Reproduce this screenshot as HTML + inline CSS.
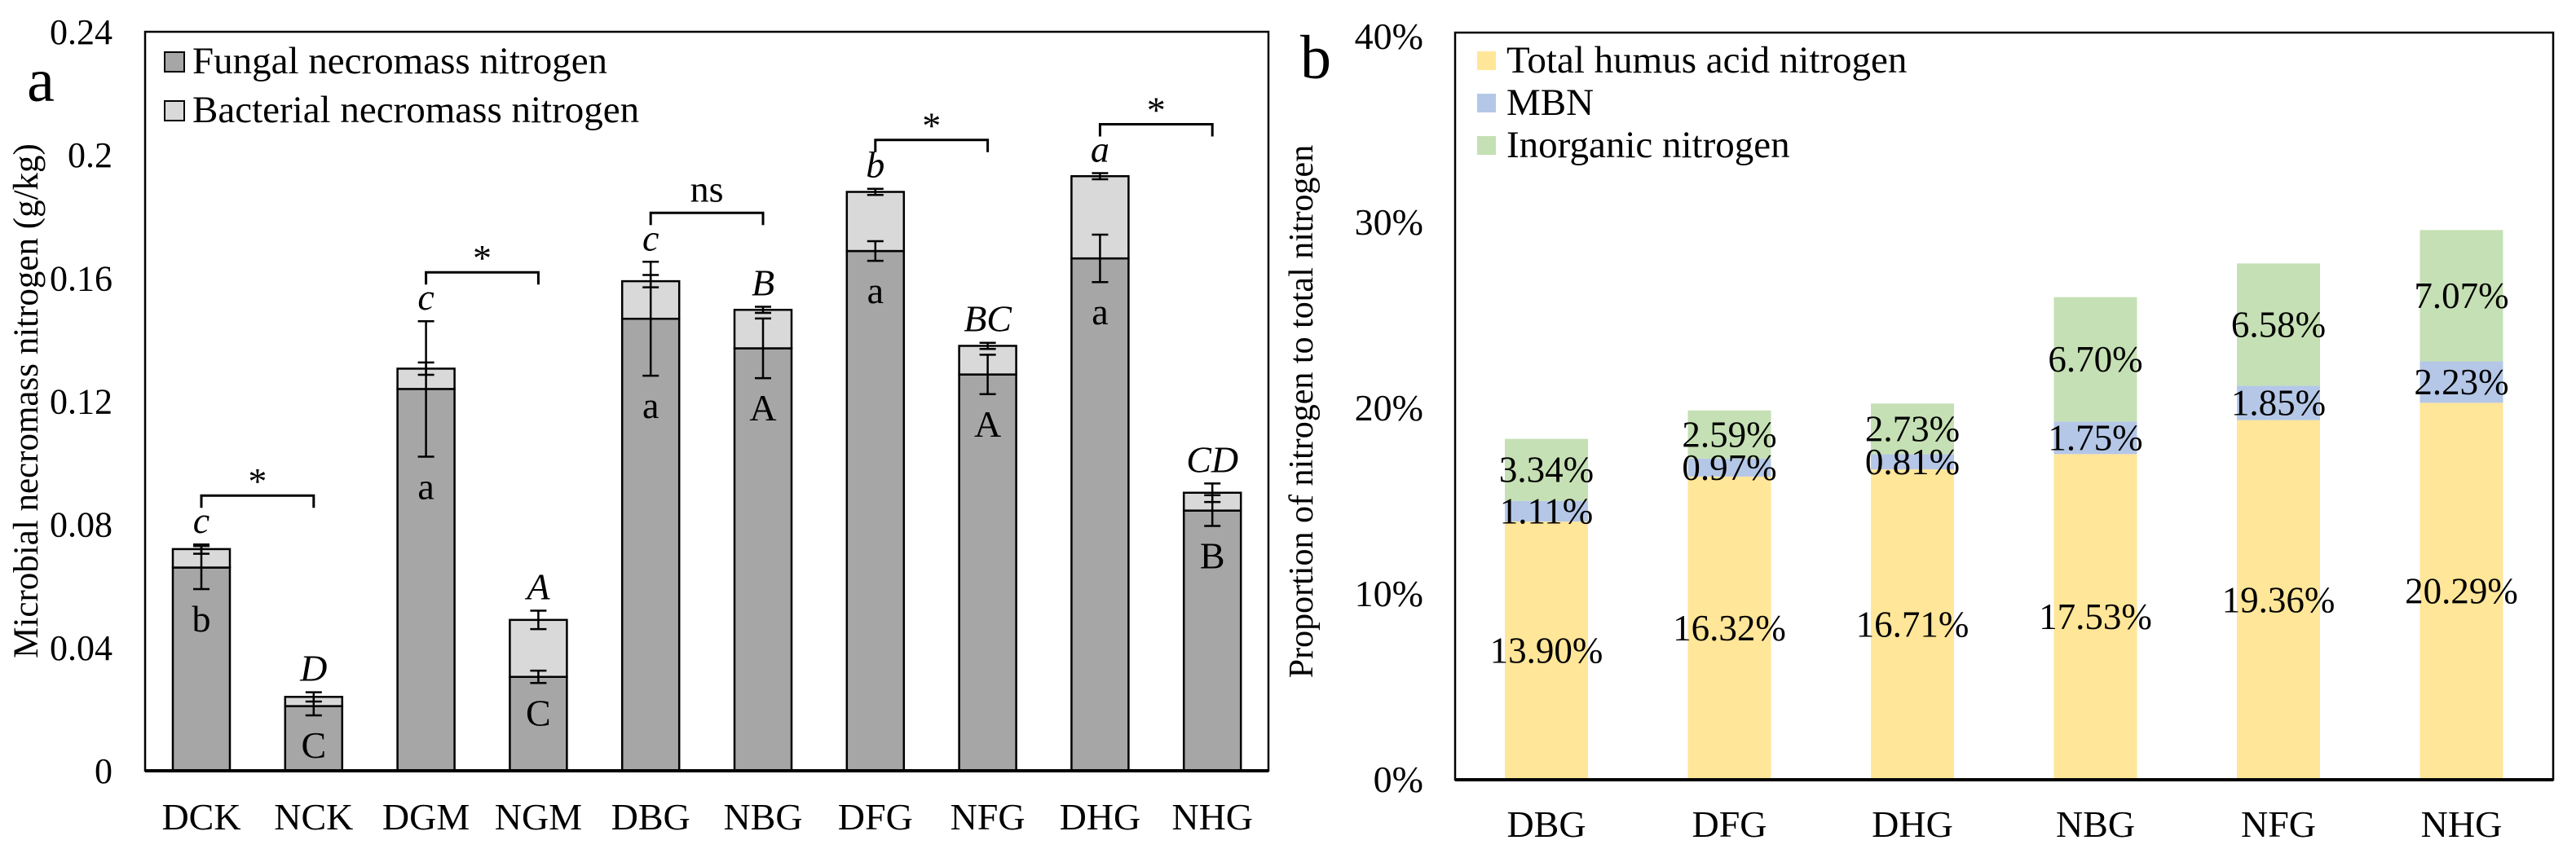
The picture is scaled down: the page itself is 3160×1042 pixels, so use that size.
<!DOCTYPE html>
<html><head><meta charset="utf-8">
<style>
html,body{margin:0;padding:0;background:#fff;}
svg{display:block;font-family:"Liberation Serif",serif;}
</style></head>
<body>
<svg id="chart" width="3160" height="1042" viewBox="0 0 3160 1042" xmlns="http://www.w3.org/2000/svg">
<rect width="3160" height="1042" fill="#fff"/>
<g id="pa"></g>
<g id="pb"></g>
</svg>
<script>
// ---- Panel a data ----
const catsA = ["DCK","NCK","DGM","NGM","DBG","NBG","DFG","NFG","DHG","NHG"];
const fungal = [0.066,0.021,0.124,0.0305,0.1468,0.1372,0.1688,0.1287,0.1664,0.0845];
const totalA = [0.072,0.024,0.1306,0.049,0.159,0.1497,0.188,0.138,0.1931,0.0903];
const fungalErr = [0.007,0.003,0.022,0.002,0.0185,0.0097,0.0032,0.0064,0.0077,0.005];
const totalErr = [0.0015,0.0015,0.002,0.003,0.002,0.001,0.001,0.001,0.001,0.003];
const topLetters = ["c","D","c","A","c","B","b","BC","a","CD"];
const inLetters = ["b","C","a","C","a","A","a","A","a","B"];
const brackets = [[0,1,"*"],[2,3,"*"],[4,5,"ns"],[6,7,"*"],[8,9,"*"]];
const ticksA = [0,0.04,0.08,0.12,0.16,0.2,0.24];
const tickLabelsA = ["0","0.04","0.08","0.12","0.16","0.2","0.24"];
// ---- Panel b data ----
const catsB = ["DBG","DFG","DHG","NBG","NFG","NHG"];
const humus = [13.90,16.32,16.71,17.53,19.36,20.29];
const mbn = [1.11,0.97,0.81,1.75,1.85,2.23];
const inorg = [3.34,2.59,2.73,6.70,6.58,7.07];
const ticksB = [0,10,20,30,40];

const NS="http://www.w3.org/2000/svg";
function mk(tag,attrs,parent,text){const e=document.createElementNS(NS,tag);for(const k in attrs)e.setAttribute(k,attrs[k]);if(text!==undefined)e.textContent=text;parent.appendChild(e);return e;}

// ===== Panel a =====
const pa=document.getElementById('pa');
const aL=178,aR=1556,aT=39,aB=946;
const yA=v=>aB-v/0.24*(aB-aT);
const xA=i=>247+i*137.8;
const bwA=70;
let e;
e=mk('rect',{x:aL,y:aT,width:aR-aL,height:aB-aT,fill:'none',stroke:'#000','stroke-width':2.5},pa);


e=mk('text',{x:50,y:124,'font-size':76,'text-anchor':'middle'},pa,'a');


ticksA.forEach((t,i)=>{
  const el=mk('text',{x:138,y:yA(t)+15,'font-size':44,'text-anchor':'end'},pa,tickLabelsA[i]);
  
  
});
e=mk('text',{x:46,y:492,'font-size':43,'text-anchor':'middle',transform:'rotate(-90 46 492)'},pa,'Microbial necromass nitrogen (g/kg)');


// legend a
[['#a6a6a6','Fungal necromass nitrogen',64],['#d9d9d9','Bacterial necromass nitrogen',124]].forEach(([c,t,y])=>{
  const s=mk('rect',{x:202,y:y,width:24,height:24,fill:c,stroke:'#000','stroke-width':2},pa);
  
  
  const tx=mk('text',{x:236,y:y+26,'font-size':47},pa,t);
  
  
});
function errbar(x,v,err,g){
  const y1=yA(v+err),y2=yA(v-err);
  mk('line',{x1:x,x2:x,y1:y1,y2:y2,stroke:'#000','stroke-width':2.5},g);
  mk('line',{x1:x-10,x2:x+10,y1:y1,y2:y1,stroke:'#000','stroke-width':2.5},g);
  mk('line',{x1:x-10,x2:x+10,y1:y2,y2:y2,stroke:'#000','stroke-width':2.5},g);
}
catsA.forEach((c,i)=>{
  const x=xA(i);
  const g=mk('g',{},pa);
  
  
  const f=mk('rect',{x:x-bwA/2,y:yA(fungal[i]),width:bwA,height:aB-yA(fungal[i]),fill:'#a6a6a6',stroke:'#000','stroke-width':2.5},g);
  
  
  const b=mk('rect',{x:x-bwA/2,y:yA(totalA[i]),width:bwA,height:yA(fungal[i])-yA(totalA[i]),fill:'#d9d9d9',stroke:'#000','stroke-width':2.5},g);
  
  
  errbar(x,fungal[i],fungalErr[i],g);
  errbar(x,totalA[i],totalErr[i],g);
  const topY=Math.min(yA(totalA[i]+totalErr[i]),yA(fungal[i]+fungalErr[i]));
  const tl=mk('text',{x:x,y:topY-14,'font-size':46,'font-style':'italic','text-anchor':'middle'},g,topLetters[i]);
  
  
  const il=mk('text',{x:x,y:yA(fungal[i]-fungalErr[i])+52,'font-size':46,'text-anchor':'middle'},g,inLetters[i]);
  
  
  const xl=mk('text',{x:x,y:1018,'font-size':46,'text-anchor':'middle'},g,c);
  
  
});
brackets.forEach(([a,b,s])=>{
  const top=Math.min(yA(totalA[a]+totalErr[a]),yA(fungal[a]+fungalErr[a]));
  const by=top-60;
  const g=mk('g',{},pa);
  
  
  mk('path',{d:`M${xA(a)} ${by+15} V${by} H${xA(b)} V${by+15}`,fill:'none',stroke:'#000','stroke-width':3},g);
  mk('text',{x:(xA(a)+xA(b))/2,y:s==='*'?by-2:by-14,'font-size':46,'text-anchor':'middle'},g,s);
});
mk('line',{x1:aL,x2:aR,y1:aB,y2:aB,stroke:'#000','stroke-width':4},pa);

// ===== Panel b =====
const pb=document.getElementById('pb');
const bL=1785,bR=3132,bT=40,bB=957;
const yB=v=>bB-v*22.8;
const xB=i=>1897+i*224.5;
const bwB=102;
e=mk('rect',{x:bL,y:bT,width:bR-bL,height:bB-bT,fill:'none',stroke:'#000','stroke-width':2.5},pb);


e=mk('text',{x:1614,y:96,'font-size':76,'text-anchor':'middle'},pb,'b');


ticksB.forEach(t=>{
  const el=mk('text',{x:1746,y:yB(t)+15,'font-size':46,'text-anchor':'end'},pb,t+'%');
  
  
});
e=mk('text',{x:1610,y:505,'font-size':42,'text-anchor':'middle',transform:'rotate(-90 1610 505)'},pb,'Proportion of nitrogen to total nitrogen');


[['#ffe699','Total humus acid nitrogen',63],['#b4c7e7','MBN',115],['#c5e0b4','Inorganic nitrogen',167]].forEach(([c,t,y])=>{
  const s=mk('rect',{x:1812,y:y,width:23,height:23,fill:c},pb);
  
  
  const tx=mk('text',{x:1848,y:y+26,'font-size':47},pb,t);
  
  
});
catsB.forEach((c,i)=>{
  const x=xB(i);
  const g=mk('g',{},pb);
  
  
  const segs=[[humus[i],'#ffe699','humus'],[mbn[i],'#b4c7e7','mbn'],[inorg[i],'#c5e0b4','inorganic']];
  let base=0;
  segs.forEach(([v,col,nm])=>{
    const r=mk('rect',{x:x-bwB/2,y:yB(base+v),width:bwB,height:yB(base)-yB(base+v),fill:col},g);
    
    
    base+=v;
  });
  base=0;
  segs.forEach(([v,col,nm])=>{
    const t=mk('text',{x:x,y:(yB(base)+yB(base+v))/2+15,'font-size':45,'text-anchor':'middle'},g,v.toFixed(2)+'%');
    
    
    base+=v;
  });
  const xl=mk('text',{x:x,y:1027,'font-size':46,'text-anchor':'middle'},g,c);
  
  
});
mk('line',{x1:bL,x2:bR,y1:bB,y2:bB,stroke:'#000','stroke-width':4},pb);
</script>
</body></html>
